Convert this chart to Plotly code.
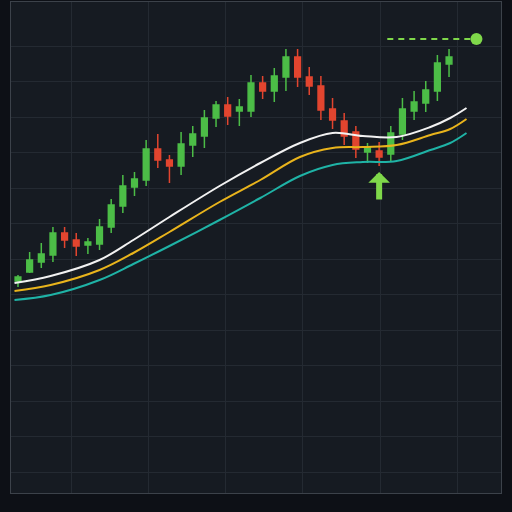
import plotly.graph_objects as go

# ---- data ----
idx = list(range(38))
opens  = [219,228,238,245,267,260,255,256,273,294,313,320,351,340,334,355,364,382,395,389,
          389,417,409,423,443,423,414,391,379,368,348,349,346,366,389,397,409,436]
highs  = [225,248,257,273,273,267,262,281,301,325,328,360,366,345,368,374,390,399,403,401,
          425,424,432,451,451,433,424,402,387,374,357,358,374,402,409,419,445,451]
lows   = [213,227,232,238,252,244,246,250,267,287,304,314,332,317,325,343,352,373,375,374,
          383,401,398,409,413,405,380,371,355,342,337,334,339,360,380,388,399,423]
closes = [223,240,246,267,260,254,258,273,295,314,321,351,340,334,356,366,382,395,384,393,
          417,409,424,443,423,414,390,380,364,351,352,343,367,391,398,410,437,443]

ma_x     = [-0.3, 2.8, 7.0, 9.9, 13.0, 17.3, 20.8, 24.2, 27.0, 29.6, 32.5, 35.4, 37.1, 38.5]
ma_fast  = [217, 224, 240, 260, 283, 314, 337, 357, 367, 364, 363, 373, 382, 392]
ma_mid   = [209, 215, 230, 247, 268, 298, 320, 343, 352, 353, 355, 365, 371, 381]
ma_slow  = [200, 205, 220, 236, 254, 280, 302, 324, 335, 338, 339, 350, 357, 367]

signal_idx = 31
signal_tip = 328
target_x = [31.7, 39.0]
target_price = 461
target_dot_x = 39.35

grid_x = [4.6, 11.22, 17.84, 24.46, 31.08, 37.7]
grid_y = [28 + 35.5 * k for k in range(13)]

GREEN = "#4cbd47"
RED = "#e2452f"
SIG = "#7fd84a"

fig = go.Figure()

fig.add_trace(go.Scatter(x=ma_x, y=ma_slow, mode="lines", line=dict(color="#1fb3a6", width=2, shape="spline"),
                         hoverinfo="skip", showlegend=False))
fig.add_trace(go.Scatter(x=ma_x, y=ma_mid, mode="lines", line=dict(color="#e9b41c", width=2, shape="spline"),
                         hoverinfo="skip", showlegend=False))
fig.add_trace(go.Scatter(x=ma_x, y=ma_fast, mode="lines", line=dict(color="#f2f2f2", width=2, shape="spline"),
                         hoverinfo="skip", showlegend=False))

fig.add_trace(go.Candlestick(
    x=idx, open=opens, high=highs, low=lows, close=closes,
    increasing=dict(line=dict(color=GREEN, width=1.5), fillcolor=GREEN),
    decreasing=dict(line=dict(color=RED, width=1.5), fillcolor=RED),
    whiskerwidth=0, showlegend=False))

fig.add_trace(go.Scatter(x=target_x, y=[target_price]*2, mode="lines",
                         line=dict(color=SIG, width=2, dash="6px,5px"), showlegend=False))
fig.add_trace(go.Scatter(x=[target_dot_x], y=[target_price], mode="markers",
                         marker=dict(color=SIG, size=12), showlegend=False))

fig.add_annotation(x=signal_idx, y=signal_tip, ax=0, ay=29, xref="x", yref="y",
                   showarrow=True, arrowhead=1, arrowwidth=6, arrowsize=0.6,
                   arrowcolor=SIG, text="")

fig.update_layout(
    width=512, height=512,
    margin=dict(l=11, r=11, t=2, b=19),
    paper_bgcolor="#0d1016", plot_bgcolor="#161b22",
    showlegend=False,
    xaxis=dict(range=[-0.6, 41.46], showticklabels=False, zeroline=False,
               showgrid=True, gridcolor="#242a32", gridwidth=1, tickvals=grid_x,
               rangeslider=dict(visible=False), showline=True, linecolor="#3c424a", mirror=True),
    yaxis=dict(range=[7, 498], showticklabels=False, zeroline=False,
               showgrid=True, gridcolor="#242a32", gridwidth=1, tickvals=grid_y,
               showline=True, linecolor="#3c424a", mirror=True),
)

fig.write_html("out.html")
